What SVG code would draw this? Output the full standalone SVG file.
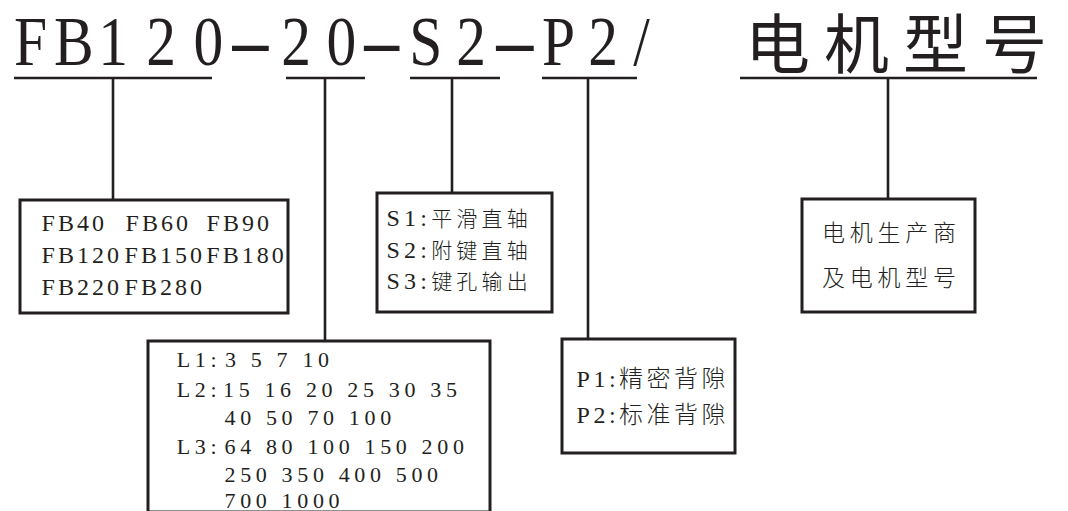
<svg xmlns="http://www.w3.org/2000/svg" width="1068" height="511" viewBox="0 0 1068 511">
<style>
.ln{stroke:#231f20;stroke-width:2.6;fill:none}
.box{fill:#fff;stroke:#231f20;stroke-width:3}
.t{font-family:"Liberation Serif","Noto Sans CJK SC",serif;fill:#231f20}
.cjk{font-family:"Noto Sans CJK SC","Liberation Serif",sans-serif}
.lt{font-weight:300}
.s24{font-size:24px}
.s22{font-size:22px}
</style>
<rect width="1068" height="511" fill="#fff"/>
<g id="title">
<text class="t" transform="scale(0.85,1)" y="65" font-size="70"><tspan x="16.5">F</tspan><tspan x="63.5">B</tspan><tspan x="115.5">1</tspan><tspan x="172">2</tspan><tspan x="227.7">0</tspan><tspan x="266.7" textLength="55.5" lengthAdjust="spacingAndGlyphs">-</tspan><tspan x="330.8">2</tspan><tspan x="384.2">0</tspan><tspan x="422.2" textLength="53.8" lengthAdjust="spacingAndGlyphs">-</tspan><tspan x="481.5">S</tspan><tspan x="536.7">2</tspan><tspan x="577.1" textLength="57.1" lengthAdjust="spacingAndGlyphs">-</tspan><tspan x="637.7">P</tspan><tspan x="692">2</tspan><tspan x="745">/</tspan></text>
<text class="t cjk" y="67.5" font-size="65"><tspan x="745">电</tspan><tspan x="824">机</tspan><tspan x="903">型</tspan><tspan x="982">号</tspan></text>
</g>
<g id="connectors">
<path class="ln" d="M14 78H212M286 78H365M410 78H500M542 78H637M740 78H1037"/>
<path class="ln" d="M113 78V200M325 78V341M452 78V193M588 78V339M888 78V199"/>
</g>
<g id="node-model">
<rect class="box" x="20" y="200" width="268" height="113"/>
<text class="t s24" letter-spacing="3"><tspan x="41.6" y="231">FB40</tspan> <tspan x="125.6">FB60</tspan> <tspan x="206.6">FB90</tspan></text>
<text class="t s24" letter-spacing="3"><tspan x="41.6" y="263">FB120</tspan> <tspan x="124.6">FB150</tspan> <tspan x="206.3">FB180</tspan></text>
<text class="t s24" letter-spacing="3"><tspan x="41.6" y="295">FB220</tspan> <tspan x="124.6">FB280</tspan></text>
</g>
<g id="node-length">
<rect class="box" x="148" y="341" width="342" height="171"/>
<text class="t s22" letter-spacing="4.65"><tspan x="176.7" y="366.5">L1:</tspan> <tspan x="225">3 5 7 10</tspan></text>
<text class="t s22" letter-spacing="4.65"><tspan x="176.7" y="396.5">L2:</tspan> <tspan x="223">15 16 20 25 30 35</tspan></text>
<text class="t s22" letter-spacing="4.65" x="224.5" y="425">40 50 70 100</text>
<text class="t s22" letter-spacing="4.65"><tspan x="176.7" y="453.5">L3:</tspan> <tspan x="224.5">64 80 100 150 200</tspan></text>
<text class="t s22" letter-spacing="4.65" x="224.5" y="481.5">250 350 400 500</text>
<text class="t s22" letter-spacing="4.65" x="224.5" y="508">700 1000</text>
</g>
<g id="node-shaft">
<rect class="box" x="377" y="193" width="175" height="119"/>
<text class="t s24" letter-spacing="4.2" x="386.5" y="226">S1:<tspan class="lt" font-size="21">平滑直轴</tspan></text>
<text class="t s24" letter-spacing="4.2" x="386.5" y="258">S2:<tspan class="lt" font-size="21">附键直轴</tspan></text>
<text class="t s24" letter-spacing="4.2" x="386.5" y="289">S3:<tspan class="lt" font-size="21">键孔输出</tspan></text>
</g>
<g id="node-backlash">
<rect class="box" x="562" y="339" width="173" height="114"/>
<text class="t s24" letter-spacing="3.5" x="576.6" y="387">P1:<tspan class="lt" font-size="24">精密背隙</tspan></text>
<text class="t s24" letter-spacing="3.5" x="576.6" y="423">P2:<tspan class="lt" font-size="24">标准背隙</tspan></text>
</g>
<g id="node-motor">
<rect class="box" x="802" y="199" width="173" height="113"/>
<text class="t cjk lt" font-size="23" letter-spacing="4.75" x="822" y="241">电机生产商</text>
<text class="t cjk lt" font-size="23" letter-spacing="4.75" x="822" y="286">及电机型号</text>
</g>
</svg>
